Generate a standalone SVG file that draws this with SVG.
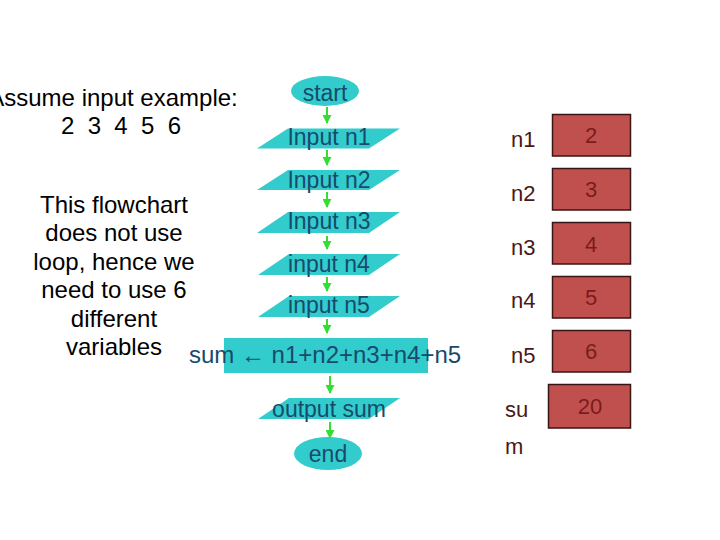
<svg xmlns="http://www.w3.org/2000/svg" width="720" height="540" viewBox="0 0 720 540">
<defs>
<style>
.fc{fill:#33cccc;stroke:none}
.ft{font-family:"Liberation Sans",Arial,sans-serif;font-size:23px;fill:#174a6c;text-anchor:middle}
.lt{font-family:"Liberation Sans",Arial,sans-serif;font-size:24px;fill:#000;text-anchor:middle}
.box{fill:#c0504d;stroke:#3a1515;stroke-width:1.5}
.vt{font-family:"Liberation Sans",Arial,sans-serif;font-size:22px;fill:#7a1c1c;text-anchor:middle}
.nl{font-family:"Liberation Sans",Arial,sans-serif;font-size:22px;fill:#4a1818}
.ar{stroke:#33dd33;stroke-width:2;fill:none;marker-end:url(#ah)}
</style>
<marker id="ah" viewBox="0 0 10 10" refX="9" refY="5" markerWidth="4.5" markerHeight="4.5" orient="auto" markerUnits="strokeWidth">
<path d="M0,0 L10,5 L0,10 z" fill="#33dd33"/>
</marker>
</defs>
<rect width="720" height="540" fill="#fff"/>
<g id="notes">
<text class="lt" x="113" y="106">Assume input example:</text>
<text class="lt" x="121" y="134" xml:space="preserve">2  3  4  5  6</text>
<text class="lt" x="114" y="212.7">This flowchart</text>
<text class="lt" x="114" y="241.2">does not use</text>
<text class="lt" x="114" y="269.7">loop, hence we</text>
<text class="lt" x="114" y="298.2">need to use 6</text>
<text class="lt" x="114" y="326.7">different</text>
<text class="lt" x="114" y="355.2">variables</text>
</g>
<g id="connectors">
<line class="ar" x1="327" y1="107" x2="327" y2="123"/>
<line class="ar" x1="327" y1="150" x2="327" y2="165"/>
<line class="ar" x1="327" y1="192" x2="327" y2="207"/>
<line class="ar" x1="327" y1="236" x2="327" y2="249"/>
<line class="ar" x1="327" y1="277" x2="327" y2="291"/>
<line class="ar" x1="327" y1="319" x2="327" y2="333"/>
<line class="ar" x1="330" y1="376" x2="330" y2="393"/>
<line class="ar" x1="330" y1="422" x2="330" y2="438"/>
</g>
<g id="start">
<ellipse class="fc" cx="325" cy="91" rx="34" ry="15"/>
<text class="ft" x="325" y="100.5">start</text>
</g>
<g id="input1">
<polygon class="fc" points="257,148.5 288,128.5 400,128.5 369,148.5"/>
<text class="ft" x="329" y="145.3">Input n1</text>
</g>
<g id="input2">
<polygon class="fc" points="257,190 288,170 400,170 369,190"/>
<text class="ft" x="329" y="188.3">Input n2</text>
</g>
<g id="input3">
<polygon class="fc" points="257,233 288,212 400,212 369,233"/>
<text class="ft" x="329" y="229.3">Input n3</text>
</g>
<g id="input4">
<polygon class="fc" points="258,275 289,254 400,254 369,275"/>
<text class="ft" x="329" y="271.7">input n4</text>
</g>
<g id="input5">
<polygon class="fc" points="258,317 289,296 400,296 369,317"/>
<text class="ft" x="329" y="313.3">input n5</text>
</g>
<g id="sum">
<rect class="fc" x="224" y="338" width="204" height="35"/>
<text class="ft" x="325" y="363.3" style="font-size:24px">sum ← n1+n2+n3+n4+n5</text>
</g>
<g id="output">
<polygon class="fc" points="258,419 289,398 400,398 369,419"/>
<text class="ft" x="329" y="416.7">output sum</text>
</g>
<g id="end">
<ellipse class="fc" cx="328" cy="453.5" rx="34" ry="16.5"/>
<text class="ft" x="328" y="461.7">end</text>
</g>
<g id="var-n1">
<text class="nl" x="511" y="146.7">n1</text>
<rect class="box" x="552.5" y="114.5" width="78" height="41.5"/>
<text class="vt" x="591" y="143.3">2</text>
</g>
<g id="var-n2">
<text class="nl" x="511" y="200.7">n2</text>
<rect class="box" x="552.5" y="168.5" width="78" height="41.5"/>
<text class="vt" x="591" y="197.3">3</text>
</g>
<g id="var-n3">
<text class="nl" x="511" y="255">n3</text>
<rect class="box" x="552.5" y="222.5" width="78" height="41.5"/>
<text class="vt" x="591" y="251.7">4</text>
</g>
<g id="var-n4">
<text class="nl" x="511" y="308.3">n4</text>
<rect class="box" x="552.5" y="276.5" width="78" height="41.5"/>
<text class="vt" x="591" y="305">5</text>
</g>
<g id="var-n5">
<text class="nl" x="511" y="362.7">n5</text>
<rect class="box" x="552.5" y="330.5" width="78" height="41.5"/>
<text class="vt" x="591" y="359.3">6</text>
</g>
<g id="var-sum">
<text class="nl" x="505" y="416.7">su</text>
<text class="nl" x="505" y="454.3">m</text>
<rect class="box" x="548.5" y="384.5" width="82" height="43.5"/>
<text class="vt" x="590" y="414">20</text>
</g>
</svg>
